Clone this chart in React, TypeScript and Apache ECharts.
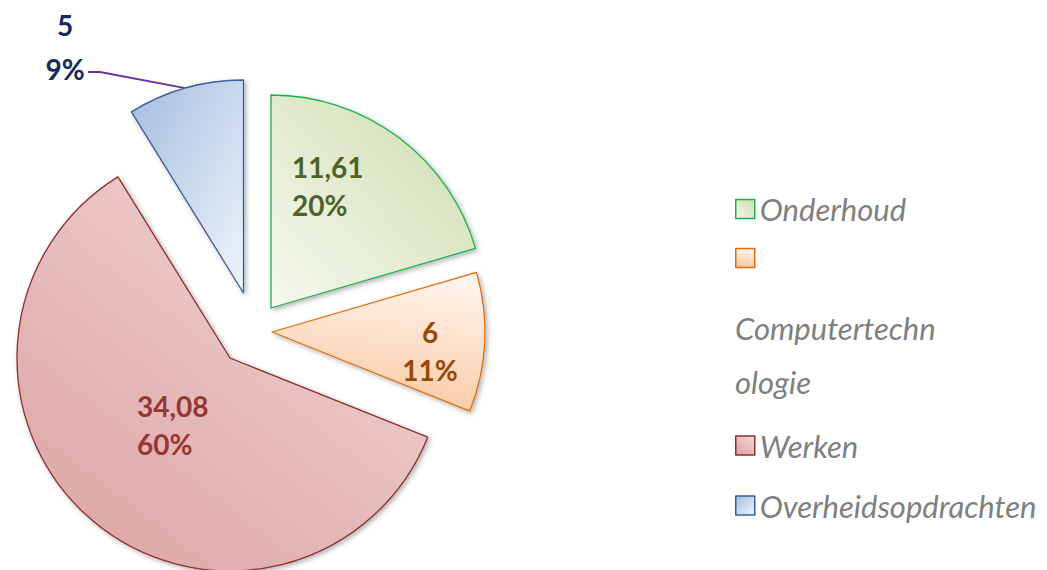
import React, { useEffect, useRef } from "react";
import * as echarts from "echarts";

const names = ["Onderhoud", "Computertechnologie", "Werken", "Overheidsopdrachten"];
const values = [11.61, 6, 34.08, 5];

// presentation
const sliceCenters = [
  [271, 308],
  [272, 332],
  [230, 358],
  [243.5, 293],
];
const RADIUS = 213;
const borderColors = ["#1FB04E", "#E46C0A", "#8E2F2D", "#3A5F96"];
const labelColors = ["#4F6228", "#984807", "#953735", "#12295C"];
const gradStops = [
  { x: 0, y: 1, x2: 1, y2: 0, c0: "#F6F9F0", c1: "#CCDCAC" },
  { x: 0.6, y: 0, x2: 0.4, y2: 1, c0: "#FFF4EC", c1: "#F8C9A2" },
  { x: 0.9, y: 0, x2: 0.1, y2: 1, c0: "#F2D6D6", c1: "#DCA4A4" },
  { x: 0, y: 0, x2: 1, y2: 1, c0: "#A5BDDF", c1: "#EFF4FB" },
];
const labelPos = [
  { x: 292, y: 186, align: "left" },
  { x: 430, y: 351, align: "center" },
  { x: 137, y: 425, align: "left" },
  { x: 65, y: 47, align: "center" },
];
const legendCenters = [210.5, 264.7, 447, 507];

function grad(i: number) {
  const g = gradStops[i];
  return new echarts.graphic.LinearGradient(g.x, g.y, g.x2, g.y2, [
    { offset: 0, color: g.c0 },
    { offset: 1, color: g.c1 },
  ]);
}

function fmtValue(v: number) {
  return String(v).replace(".", ",");
}

export default function App() {
  const ref = useRef<HTMLDivElement>(null);
  useEffect(() => {
    if (!ref.current) return;
    const chart = echarts.init(ref.current, null, { renderer: "svg" });

    const series = names.map((_, i) => ({
      type: "pie",
      center: sliceCenters[i],
      radius: RADIUS,
      startAngle: 90,
      clockwise: true,
      avoidLabelOverlap: false,
      animation: false,
      silent: true,
      emphasis: { disabled: true },
      label: {
        fontFamily: "Lato",
        fontWeight: "bold",
        fontSize: 28,
        lineHeight: 38,
        formatter: (p: any) => `${fmtValue(p.value)}\n${Math.round(p.percent)}%`,
      },
      labelLayout: (p: any) => {
        if (p.dataIndex !== i) return {};
        const lp = labelPos[i];
        const res: any = { x: lp.x, y: lp.y, align: lp.align, verticalAlign: "middle" };
        if (i === 3 && p.labelLinePoints) {
          res.labelLinePoints = [p.labelLinePoints[0], [100, 72], [88, 72]];
        }
        return res;
      },
      data: names.map((n, j) => {
        const own = j === i;
        return {
          name: n,
          value: values[j],
          itemStyle: own
            ? {
                color: grad(j),
                borderColor: borderColors[j],
                borderWidth: 1.3,
                shadowBlur: 5,
                shadowOffsetX: 2,
                shadowOffsetY: 2,
                shadowColor: "rgba(0,0,0,0.3)",
              }
            : { color: "rgba(0,0,0,0)", borderWidth: 0, shadowBlur: 0, shadowColor: "rgba(0,0,0,0)" },
          label: own
            ? {
                show: true,
                position: j === 3 ? "outside" : "inside",
                color: labelColors[j],
                lineHeight: j === 3 ? 44 : 38,
              }
            : { show: false },
          labelLine: own && j === 3
            ? { show: true, length: 16, length2: 12, lineStyle: { color: "#7030A0", width: 2 } }
            : { show: false },
        };
      }),
    }));

    const legends = names.map((n, i) => ({
      show: true,
      orient: "vertical",
      left: 735,
      top: legendCenters[i] - 17,
      padding: 0,
      itemWidth: 19,
      itemHeight: 19,
      selectedMode: false,
      icon: "rect",
      formatter: (name: string) => (name === "Computertechnologie" ? "" : name),
      textStyle: {
        fontFamily: "Lato",
        fontStyle: "italic",
        fontSize: 31,
        lineHeight: 18,
        color: "#7F7F7F",
      },
      data: [
        {
          name: n,
          itemStyle: { color: grad(i), borderColor: borderColors[i], borderWidth: 1.5 },
        },
      ],
    }));

    chart.setOption({
      animation: false,
      backgroundColor: "#FFFFFF",
      legend: legends,
      series,
      graphic: [
        {
          type: "text",
          left: 735,
          top: 301,
          style: {
            text: "Computertechn\nologie",
            fontFamily: "Lato",
            fontStyle: "italic",
            fontSize: 31,
            lineHeight: 54,
            fill: "#7F7F7F",
          },
        },
      ],
    });
    return () => chart.dispose();
  }, []);
  return (
    <div
      ref={ref}
      style={{ position: "absolute", left: 0, top: 0, width: 1047, height: 570 }}
    />
  );
}
